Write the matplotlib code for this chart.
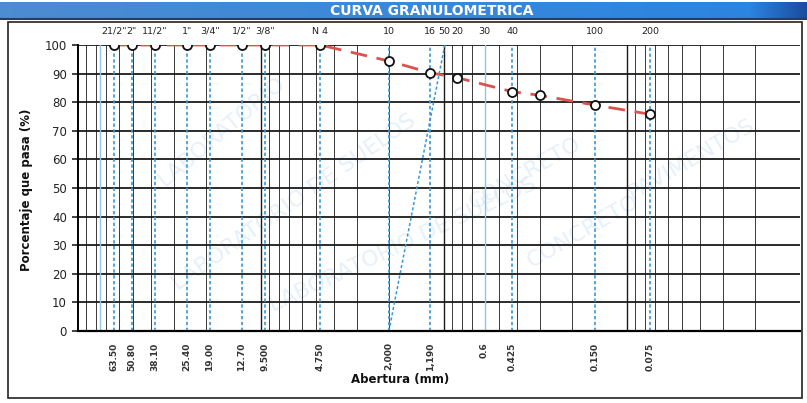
import numpy as np
import matplotlib.pyplot as plt
from matplotlib.patches import Rectangle

# tamices y porcentaje que pasa
aberturas = [63.5, 50.8, 38.1, 25.4, 19.0, 12.7, 9.5, 4.75, 2.0, 1.19, 0.85, 0.425, 0.3, 0.15, 0.075]
pasa = [100, 100, 100, 100, 100, 100, 100, 100, 94.4, 90.3, 88.6, 83.7, 82.4, 79.0, 75.8]

# nombres de tamices arriba
tamices = ['21/2"', '2"', '11/2"', '1"', '3/4"', '1/2"', '3/8"', 'N 4', '10', '16', '50', '20', '30', '40', '100', '200']
tamices_x = [63.5, 50.8, 38.1, 25.4, 19.0, 12.7, 9.5, 4.75, 2.0, 1.19, 1.0, 0.85, 0.6, 0.425, 0.15, 0.075]

# aberturas escritas abajo
etiquetas_mm = ['63.50', '50.80', '38.10', '25.40', '19.00', '12.70', '9.500', '4.750', '2,000', '1,190', '0.6', '0.425', '0.150', '0.075']
etiquetas_x = [63.5, 50.8, 38.1, 25.4, 19.0, 12.7, 9.5, 4.75, 2.0, 1.19, 0.6, 0.425, 0.15, 0.075]

# lineas punteadas azules en cada tamiz
punteadas = [63.5, 50.8, 38.1, 25.4, 19.0, 12.7, 9.5, 4.75, 2.0, 1.19, 0.425, 0.15, 0.075]
celestes = [76.2, 0.6]
diagonal_x = [2.0, 0.99]
diagonal_y = [0, 100]

W, H = 807, 403
fig = plt.figure(figsize=(W / 100, H / 100), dpi=100)
fig.patch.set_facecolor('white')

# barra de titulo
bar = fig.add_axes([0.0, 1 - 20 / H, 1.0, 18 / H])
grad = np.linspace(0, 1, 400)
c1 = np.array([0.30, 0.55, 0.82])
c2 = np.array([0.17, 0.52, 0.88])
c3 = np.array([0.10, 0.30, 0.62])
cols = np.zeros((1, 400, 3))
for i, t in enumerate(grad):
    if t < 0.93:
        cols[0, i] = c1 + (c2 - c1) * (t / 0.93)
    else:
        cols[0, i] = c2 + (c3 - c2) * ((t - 0.93) / 0.07)
bar.imshow(cols, aspect='auto', extent=[0, 1, 0, 1])
bar.axhline(0.03, color='#1b3f73', lw=1.5)
bar.text(432 / W, 0.5, 'CURVA GRANULOMETRICA', color='white', fontsize=10,
         fontweight='bold', ha='center', va='center', transform=bar.transAxes)
bar.set_axis_off()

# marco
fig.patches.append(Rectangle((8 / W, 5 / H), 794 / W, 376 / H, transform=fig.transFigure,
                             fill=False, edgecolor='#222222', lw=1.2))

ax = fig.add_axes([78 / W, 72 / H, 722 / W, 286 / H])
ax.set_xscale('log')
ax.set_xlim(100, 100 / 10 ** (722 / 183))
ax.set_ylim(0, 100)

# marcas de agua
for (xf, yf, s, r) in [(0.30, 0.45, 'LABORATORIO DE SUELOS', 35), (0.45, 0.30, 'LABORATORIO DE SUELOS', 25),
                       (0.62, 0.55, 'CONCRETO', 30), (0.70, 0.35, 'CONCRETO', 30),
                       (0.85, 0.60, 'PAVIMENTOS', 30), (0.20, 0.70, 'LABORATORIO', 40)]:
    ax.text(xf, yf, s, transform=ax.transAxes, fontsize=16, color='#c3dbf1', alpha=0.4,
            rotation=r, ha='center', va='center', zorder=0)

# cuadricula logaritmica
for dec in [10, 1, 0.1, 0.01]:
    for k in range(1, 10):
        v = dec * k
        if v <= 100:
            ax.axvline(v, color='#1a1a1a', lw=1.0 if k == 1 else 0.6, zorder=1)
for yv in range(10, 101, 10):
    ax.axhline(yv, color='#1a1a1a', lw=1.3, zorder=1)

for v in celestes:
    ax.axvline(v, color='#8cc4ea', lw=1.0, zorder=1.5)
for v in punteadas:
    ax.axvline(v, color='#3a96d6', lw=1.2, ls=(0, (2, 1.5)), zorder=2)
ax.plot(diagonal_x, diagonal_y, color='#3a96d6', lw=1.1, ls=(0, (2, 1.5)), zorder=2)

# curva granulometrica
ax.plot(aberturas, pasa, color='#d9534f', lw=2, ls=(0, (6, 3.5)), zorder=3)
ax.plot(aberturas, pasa, ls='none', marker='o', ms=6.5, mfc='white', mec='#111111', mew=1.3, zorder=4)

for s, v in zip(tamices, tamices_x):
    ax.text(v, 103.2, s, ha='center', va='bottom', fontsize=6.8, color='#222222')
for s, v in zip(etiquetas_mm, etiquetas_x):
    ax.text(v, -4, s, ha='center', va='top', rotation=90, fontsize=6.5, fontweight='bold',
            color='#333333')

ax.set_yticks(range(0, 101, 10))
ax.set_xticks([])
ax.minorticks_off()
ax.tick_params(axis='y', direction='out', length=4, width=1.2, labelsize=8.5, pad=4, colors='#222222')
for sp in ['top', 'right']:
    ax.spines[sp].set_visible(False)
ax.spines['left'].set_linewidth(1.4)
ax.spines['bottom'].set_linewidth(1.6)
ax.patch.set_alpha(0)

fig.text(27 / W, 1 - 190 / H, 'Porcentaje que pasa (%)', rotation=90, ha='center', va='center',
         fontsize=8.5, fontweight='semibold', color='#111111')
fig.text(400 / W, 1 - 380 / H, 'Abertura (mm)', ha='center', va='center', fontsize=8.5,
         fontweight='semibold', color='#111111')

fig.savefig('out.png', dpi=100)
